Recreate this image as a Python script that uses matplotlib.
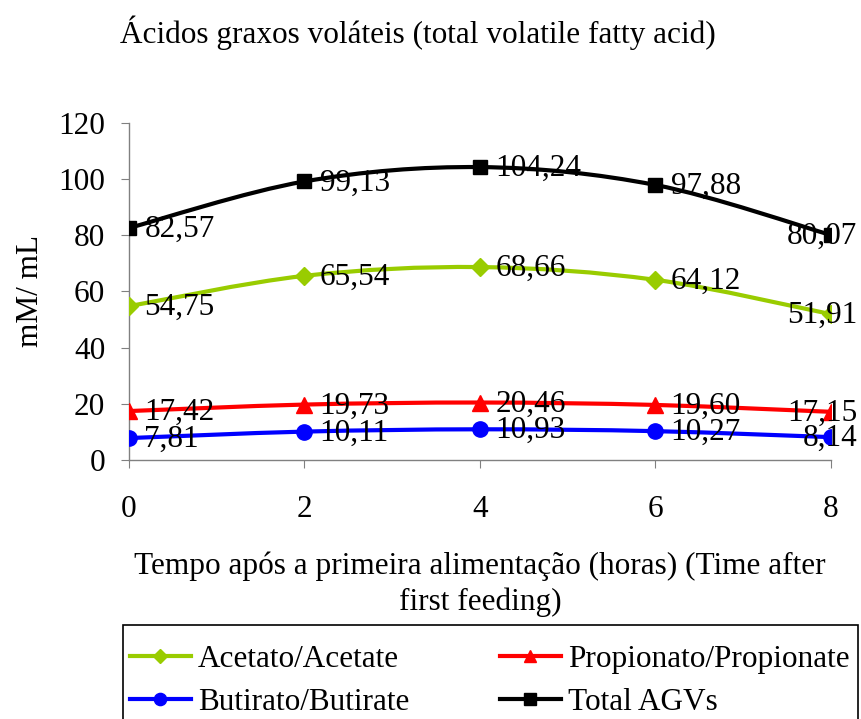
import numpy as np
import matplotlib
matplotlib.use("Agg")
import matplotlib.pyplot as plt
from matplotlib.path import Path
from matplotlib.patches import PathPatch, Rectangle
from matplotlib.lines import Line2D

plt.rcParams['font.family'] = ['Liberation Serif', 'DejaVu Serif']

horas = [0, 2, 4, 6, 8]
acetato = [54.75, 65.54, 68.66, 64.12, 51.91]
propionato = [17.42, 19.73, 20.46, 19.60, 17.15]
butirato = [7.81, 10.11, 10.93, 10.27, 8.14]
total = [82.57, 99.13, 104.24, 97.88, 80.07]

nomes = ["Acetato/Acetate", "Propionato/Propionate", "Butirato/Butirate", "Total AGVs"]
cores = ["#99CC00", "#FF0000", "#0000FF", "#000000"]
marcadores = ["D", "^", "o", "s"]
tamanhos = [9, 11, 11, 10]
FS = 22.5


def curva_suave(x, y):
    # bezier tipo excel (catmull-rom)
    pts = np.column_stack([x, y]).astype(float)
    n = len(pts)
    verts = [pts[0]]
    codes = [Path.MOVETO]
    for i in range(n - 1):
        p0 = pts[i - 1] if i > 0 else pts[i]
        p1 = pts[i]
        p2 = pts[i + 1]
        p3 = pts[i + 2] if i + 2 < n else pts[i + 1]
        c1 = p1 + (p2 - p0) / 6
        c2 = p2 - (p3 - p1) / 6
        verts += [c1, c2, p2]
        codes += [Path.CURVE4] * 3
    return Path(verts, codes)


fig = plt.figure(figsize=(8.61, 7.19), dpi=100)
ax = fig.add_axes([0.1498, 0.3602, 0.8152, 0.4690])

series = [acetato, propionato, butirato, total]
for vals, cor, mk, ms in zip(series, cores, marcadores, tamanhos):
    ax.add_patch(PathPatch(curva_suave(horas, vals), facecolor="none",
                           edgecolor=cor, lw=3, zorder=2))
    ax.plot(horas, vals, linestyle="none", marker=mk, color=cor, ms=ms, zorder=3)
    for i, (xv, yv) in enumerate(zip(horas, vals)):
        txt = f"{yv:.2f}".replace(".", ",")
        if i == len(horas) - 1:
            ax.annotate(txt, (xv, yv), xytext=(19, -1), textcoords="offset points",
                        ha="right", va="center", fontsize=FS, zorder=4,
                        annotation_clip=False)
        else:
            ax.annotate(txt, (xv, yv), xytext=(11, -1), textcoords="offset points",
                        ha="left", va="center", fontsize=FS, zorder=4)

ax.set_xlim(0, 8)
ax.set_ylim(0, 120)
ax.set_xticks([0, 2, 4, 6, 8])
ax.set_yticks(range(0, 121, 20))
ax.spines["top"].set_visible(False)
ax.spines["right"].set_visible(False)
for s in ["left", "bottom"]:
    ax.spines[s].set_color("#808080")
    ax.spines[s].set_linewidth(1)
ax.tick_params(axis="both", direction="out", length=6, color="#808080",
               labelsize=FS)
ax.tick_params(axis="x", pad=19)
ax.tick_params(axis="y", pad=11)
ax.set_ylabel("mM/ mL", fontsize=FS, labelpad=10)

fig.text(0.5575, 0.187,
         "Tempo após a primeira alimentação (horas) (Time after\nfirst feeding)",
         ha="center", va="center", fontsize=FS, linespacing=1.3)

fig.text(0.4855, 0.955, "Ácidos graxos voláteis (total volatile fatty acid)",
         ha="center", va="center", fontsize=FS)

# caixa da legenda (cortada embaixo como no original)
fig.patches.append(Rectangle((123 / 861, -0.02), (858 - 123) / 861, 0.151,
                             transform=fig.transFigure, fill=False,
                             edgecolor="#000000", lw=1.2))

# ordem por coluna para ficar igual ao original
ordem = [0, 2, 1, 3]
handles = [Line2D([], [], color=cores[i], lw=3, marker=marcadores[i],
                  ms=tamanhos[i] * 0.8) for i in ordem]
leg = fig.legend(handles, [nomes[i] for i in ordem], loc="upper left", ncol=2,
                 bbox_to_anchor=(130 / 861, 1 - 645 / 719),
                 fontsize=FS, frameon=False, borderaxespad=0, borderpad=0,
                 handlelength=1.95, handletextpad=0.22, columnspacing=2.9,
                 labelspacing=0.45)

fig.savefig("out.png", dpi=100)
